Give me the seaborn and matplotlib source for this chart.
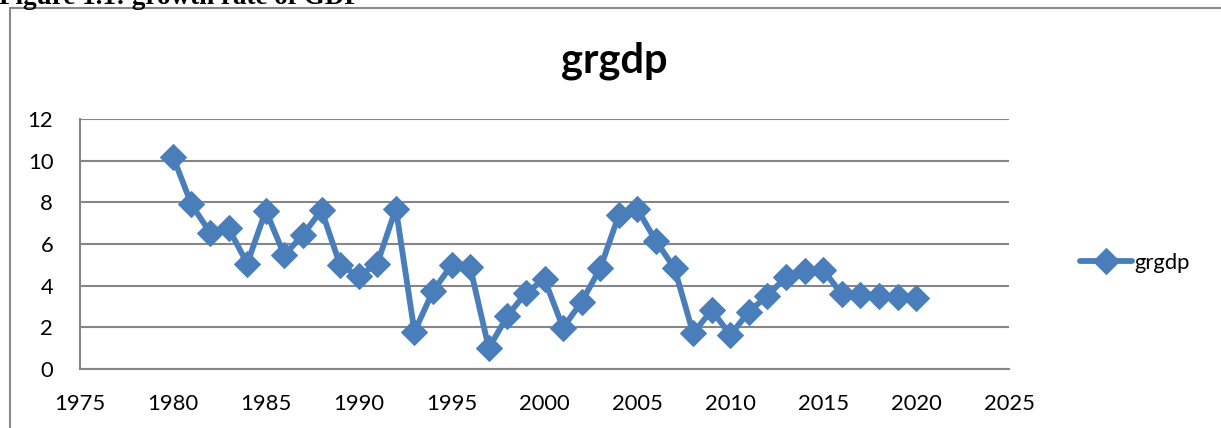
import matplotlib
matplotlib.use("Agg")
import matplotlib.pyplot as plt
from matplotlib.patches import Rectangle
import pandas as pd
import seaborn as sns

# values
years = list(range(1980, 2021))
grgdp = [10.2, 7.9, 6.55, 6.75, 5.06, 7.6, 5.46, 6.45, 7.62, 4.98,
         4.46, 5.06, 7.7, 1.79, 3.74, 4.99, 4.88, 1.0, 2.54, 3.66,
         4.3, 1.98, 3.23, 4.83, 7.39, 7.67, 6.14, 4.83, 1.71, 2.83,
         1.63, 2.75, 3.52, 4.42, 4.72, 4.75, 3.6, 3.55, 3.52, 3.47,
         3.39]
x_ticks = list(range(1975, 2030, 5))
y_ticks = list(range(0, 14, 2))

df = pd.DataFrame({'year': years, 'grgdp': grgdp})

sns.set_style('white')
plt.rcParams['font.family'] = ['Lato', 'DejaVu Sans']
plt.rcParams['text.color'] = 'black'

blue = '#4A7EBB'
grey = '#868686'

fig = plt.figure(figsize=(12.21, 4.28), dpi=100)
ax = fig.add_axes([80 / 1221, 59 / 428, 929 / 1221, 250 / 428])

sns.lineplot(data=df, x='year', y='grgdp', ax=ax, color=blue, linewidth=4.2,
             marker='D', markersize=13, markeredgecolor=blue, label='grgdp')

ax.set_xlim(1975, 2025)
ax.set_ylim(0, 12)
ax.set_xticks(x_ticks)
ax.set_yticks(y_ticks)
ax.set_xlabel('')
ax.set_ylabel('')
ax.yaxis.grid(True, color=grey, linewidth=1.5)
ax.xaxis.grid(False)
for s in ['top', 'right']:
    ax.spines[s].set_visible(False)
for s in ['left', 'bottom']:
    ax.spines[s].set_color(grey)
    ax.spines[s].set_linewidth(1.5)
ax.tick_params(axis='both', direction='out', color=grey, width=1.5,
               labelsize=15.8, labelcolor='black')
ax.tick_params(axis='y', length=5.8, pad=13.5)
ax.tick_params(axis='x', length=5, pad=13)

leg = ax.legend(loc='center left', bbox_to_anchor=(1071 / 1221, 1 - 263 / 428),
                bbox_transform=fig.transFigure, frameon=False, fontsize=15.8,
                handlelength=2.4, handletextpad=0.1, borderaxespad=0)
for t in leg.get_texts():
    t.set_color('black')

fig.text(614 / 1221, 1 - 73 / 428, 'grgdp', ha='center', va='baseline',
         fontsize=30, fontweight='bold', color='black')

# caption cut off at the top of the page
fig.text(-1 / 1221, 1 - 4 / 428, 'Figure 1.1: growth rate of GDP', ha='left',
         va='baseline', fontsize=19.5, fontweight='bold', color='black',
         family=['Liberation Serif', 'DejaVu Serif'])

# chart frame
fig.patches.append(Rectangle((10 / 1221, -0.5), 2, 1.5 - 8 / 428,
                             transform=fig.transFigure, fill=False,
                             edgecolor='#8a8a8a', linewidth=1.5))

fig.savefig('out.png', dpi=100)
